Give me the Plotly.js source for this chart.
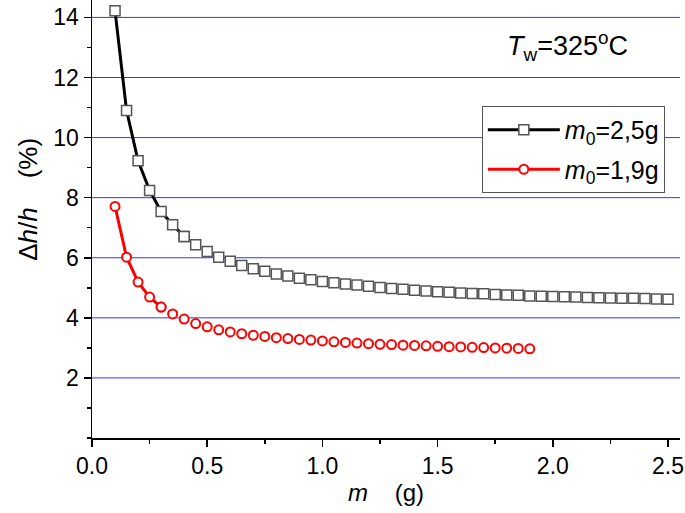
<!DOCTYPE html>
<html>
<head>
<meta charset="utf-8">
<script src="https://cdn.plot.ly/plotly-3.0.1.min.js"></script>
<style>html,body{margin:0;padding:0;background:#fff;}#chart{width:685px;height:513px;}</style>
</head>
<body>
<div id="chart"></div>
<script>
// m (g) sample positions
var mBlack = [0.10,0.15,0.20,0.25,0.30,0.35,0.40,0.45,0.50,0.55,0.60,0.65,0.70,0.75,0.80,0.85,0.90,0.95,1.00,1.05,1.10,1.15,1.20,1.25,1.30,1.35,1.40,1.45,1.50,1.55,1.60,1.65,1.70,1.75,1.80,1.85,1.90,1.95,2.00,2.05,2.10,2.15,2.20,2.25,2.30,2.35,2.40,2.45,2.50];
// Δh/h (%) for m0 = 2,5 g
var dhBlack = [14.22,10.90,9.23,8.24,7.54,7.10,6.71,6.43,6.21,6.02,5.88,5.74,5.63,5.55,5.46,5.39,5.32,5.27,5.21,5.17,5.13,5.09,5.05,5.01,4.98,4.95,4.92,4.89,4.87,4.85,4.83,4.81,4.80,4.78,4.76,4.75,4.73,4.72,4.71,4.70,4.69,4.68,4.67,4.66,4.65,4.65,4.64,4.63,4.62];
var mRed = [0.10,0.15,0.20,0.25,0.30,0.35,0.40,0.45,0.50,0.55,0.60,0.65,0.70,0.75,0.80,0.85,0.90,0.95,1.00,1.05,1.10,1.15,1.20,1.25,1.30,1.35,1.40,1.45,1.50,1.55,1.60,1.65,1.70,1.75,1.80,1.85,1.90];
// Δh/h (%) for m0 = 1,9 g
var dhRed = [7.71,6.02,5.19,4.69,4.36,4.13,3.96,3.81,3.70,3.60,3.53,3.47,3.42,3.38,3.34,3.31,3.28,3.26,3.23,3.20,3.18,3.16,3.14,3.12,3.11,3.09,3.08,3.07,3.05,3.04,3.03,3.02,3.01,3.00,2.99,2.98,2.97];

var nameBlack = '<i>m</i><sub>0</sub>=2,5g';
var nameRed = '<i>m</i><sub>0</sub>=1,9g';
var yTicks = [2,4,6,8,10,12,14];
var xTicks = [0.0,0.5,1.0,1.5,2.0,2.5];
var xTickText = ['0.0','0.5','1.0','1.5','2.0','2.5'];

var FONT = '"Liberation Sans", Arial, sans-serif';
var sqMarker = {symbol:'square', size:10, color:'#ffffff', line:{color:'#555555', width:1.5}};
var ciMarker = {symbol:'circle', size:9, color:'#ffffff', line:{color:'#ff0000', width:2}};

var nB = 7, nR = 5; // points where the connecting line is visible (gaps around symbols elsewhere)
var traces = [
  {x:mBlack.slice(0,nB), y:dhBlack.slice(0,nB), mode:'lines+markers', name:nameBlack, legendgroup:'a',
   line:{color:'#000000', width:3}, marker:sqMarker},
  {x:mBlack.slice(nB-1), y:dhBlack.slice(nB-1), mode:'markers', showlegend:false, legendgroup:'a',
   marker:sqMarker},
  {x:mRed.slice(0,nR), y:dhRed.slice(0,nR), mode:'lines+markers', name:nameRed, legendgroup:'b',
   line:{color:'#ff0000', width:3}, marker:ciMarker},
  {x:mRed.slice(nR-1), y:dhRed.slice(nR-1), mode:'markers', showlegend:false, legendgroup:'b',
   marker:ciMarker}
];

// blue horizontal grid lines at the major y ticks
var gridShapes = yTicks.map(function(v){
  return {type:'line', xref:'paper', yref:'y', x0:0, x1:1, y0:v, y1:v, layer:'below',
          line:{color:'#3333ff', width:1}};
});

var layout = {
  width:685, height:513,
  margin:{l:92, r:5, t:0, b:75},
  paper_bgcolor:'#ffffff', plot_bgcolor:'#ffffff',
  font:{family:FONT, size:22, color:'#000000'},
  showlegend:true,
  legend:{x:0.663, y:0.758, xanchor:'left', yanchor:'top', bgcolor:'#ffffff',
    bordercolor:'#555555', borderwidth:1, font:{family:FONT, size:25, color:'#000'},
    itemwidth:72, traceorder:'grouped', tracegroupgap:4},
  xaxis:{range:[0,2.552], showline:true, linecolor:'#000000', linewidth:1.5, mirror:false,
    tickmode:'array', tickvals:xTicks, ticktext:xTickText, ticks:'outside', ticklen:7, tickwidth:1.5, tickcolor:'#000000',
    minor:{tickmode:'linear', tick0:0, dtick:0.25, ticks:'outside', ticklen:4, tickwidth:1.5, tickcolor:'#000000', showgrid:false},
    showgrid:false, zeroline:false, tickfont:{family:FONT, size:23},
    title:{text:'<i>m</i>    (g)', font:{family:FONT, size:24}, standoff:6}},
  yaxis:{range:[0,14.58], showline:true, linecolor:'#000000', linewidth:1.5, mirror:false,
    tickmode:'array', tickvals:yTicks, ticks:'outside', ticklen:7, tickwidth:1.5, tickcolor:'#000000',
    minor:{tickmode:'linear', tick0:0, dtick:1, ticks:'outside', ticklen:4, tickwidth:1.5, tickcolor:'#000000', showgrid:false},
    showgrid:false, zeroline:false,
    tickfont:{family:FONT, size:23}},
  shapes:gridShapes,
  annotations:[
    {xref:'paper', yref:'paper', x:0.808, y:0.895, xanchor:'center', yanchor:'middle', showarrow:false,
     text:'<i>T</i><sub>w</sub>=325<sup>o</sup>C', font:{family:FONT, size:27, color:'#000000'}},
    {xref:'paper', yref:'paper', x:-0.108, y:0.545, xanchor:'center', yanchor:'middle', showarrow:false,
     textangle:-90, text:'\u0394<i>h</i>/<i>h</i>    (%)', font:{family:FONT, size:26, color:'#000000'}}
  ]
};

Plotly.newPlot('chart', traces, layout, {displayModeBar:false, staticPlot:true});
</script>
</body>
</html>
